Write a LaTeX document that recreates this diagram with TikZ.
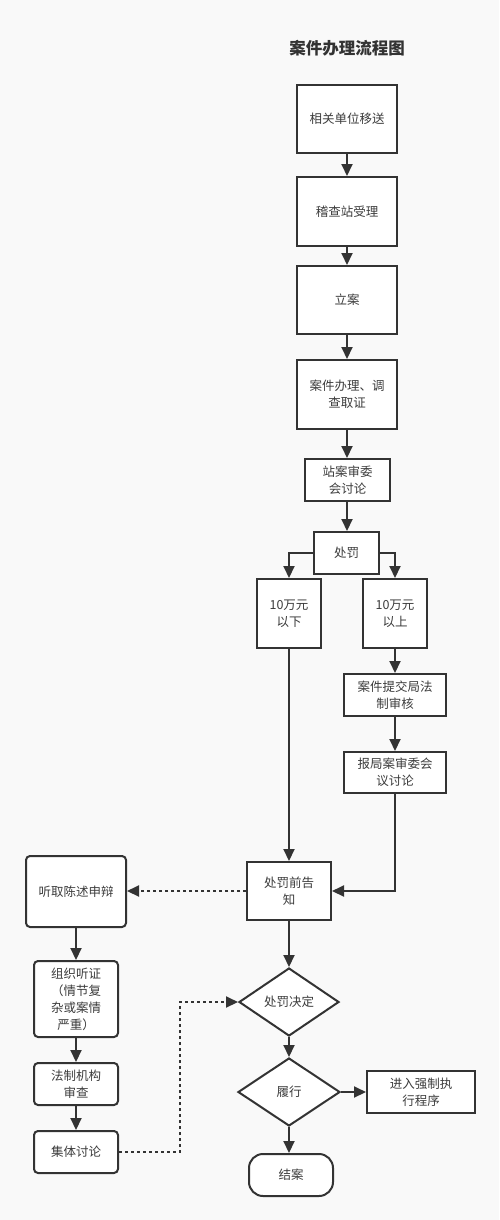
\documentclass[tikz,border=0pt]{standalone}
\usepackage{fontspec}
\newfontfamily\cjk{Noto Sans CJK SC}
\definecolor{linegray}{RGB}{51,51,51}
\definecolor{txtgray}{RGB}{60,60,60}
\definecolor{bggray}{RGB}{249,249,249}
\usetikzlibrary{shapes.geometric, arrows.meta, positioning}

\begin{document}
\begin{tikzpicture}[x=1pt, y=-1pt,
    box/.style={draw=linegray, line width=2pt, fill=white, inner sep=0pt,
        align=center, text=txtgray, font=\cjk\fontsize{12.5}{17}\selectfont},
    rbox/.style={box, rounded corners=4pt},
    decision/.style={box, diamond},
    term/.style={box, rounded corners=14pt},
    arr/.style={-{Triangle[length=12pt,width=11pt]}, line width=2pt, draw=linegray},
    dots/.style={arr, dash pattern=on 3pt off 3pt}]
                % Canvas
                \fill[bggray] (0,0) rectangle (499,1220);
                \useasboundingbox (0,0) rectangle (499,1220);

                % Title
                \node[font=\cjk\bfseries\fontsize{16.5}{20}\selectfont, text=linegray] (title) at (347,48) {案件办理流程图};

                % Main column
                \node[box, minimum width=100, minimum height=68] (move) at (347,119) {相关单位移送};
                \node[box, minimum width=100, minimum height=69] (accept) at (347,211.5) {稽查站受理};
                \node[box, minimum width=100, minimum height=68] (file) at (347,300) {立案};
                \node[box, minimum width=100, minimum height=69] (handle) at (347,394.5) {案件办理、调\\查取证};
                \node[box, minimum width=85, minimum height=42] (station) at (347.5,480) {站案审委\\会讨论};
                \node[box, minimum width=65, minimum height=42] (punish) at (346.5,553) {处罚};

                % Two branches
                \node[box, minimum width=64, minimum height=69] (below) at (289,613.5) {10万元\\以下};
                \node[box, minimum width=64, minimum height=69] (above) at (395,613.5) {10万元\\以上};
                \node[box, minimum width=102, minimum height=42] (legal) at (395,695) {案件提交局法\\制审核};
                \node[box, minimum width=102, minimum height=41] (bureau) at (395,772.5) {报局案审委会\\议讨论};

                % Notice and decision
                \node[box, minimum width=84, minimum height=58] (notice) at (289,891) {处罚前告\\知};
                \node[decision, minimum width=100, minimum height=68] (decide) at (289,1002) {处罚决定};
                \node[decision, minimum width=102, minimum height=68] (perform) at (289,1092) {履行};
                \node[box, minimum width=108, minimum height=42] (enforce) at (421,1092) {进入强制执\\行程序};
                \node[term, minimum width=84, minimum height=42] (close) at (291,1175) {结案};

                % Hearing column
                \node[rbox, minimum width=100, minimum height=71] (plead) at (76,891.5) {听取陈述申辩};
                \node[rbox, minimum width=84, minimum height=76] (hearing) at (76,999) {组织听证\\（情节复\\杂或案情\\严重）};
                \node[rbox, minimum width=84, minimum height=42] (review) at (76,1084) {法制机构\\审查};
                \node[rbox, minimum width=84, minimum height=42] (discuss) at (76,1152) {集体讨论};

                % Arrows
                \draw[arr] (move) -- (accept);
                \draw[arr] (accept) -- (file);
                \draw[arr] (file) -- (handle);
                \draw[arr] (handle) -- (handle.south |- station.north);
                \draw[arr] (handle.south |- station.south) -- (handle.south |- punish.north);
                \draw[arr] (punish.west) -| (below.north);
                \draw[arr] (punish.east) -| (above.north);
                \draw[arr] (below.south) -- (below.south |- notice.north);
                \draw[arr] (above) -- (legal);
                \draw[arr] (legal) -- (bureau);
                \draw[arr] (bureau.south) |- (notice.east);
                \draw[dots] (notice.west) -- (plead.east |- notice.west);
                \draw[arr] (plead.south -| hearing) -- (hearing);
                \draw[arr] (hearing) -- (review);
                \draw[arr] (review) -- (discuss);
                \draw[dots] (discuss.east) -- ++(61,0) |- (decide.west);
                \draw[arr] (notice.south) -- (notice.south |- decide.north);
                \draw[arr] (decide.south) -- (perform.north);
                \draw[arr] (perform.east) -- (enforce.west);
                \draw[arr] (perform.south) -- (perform.south |- close.north);
\end{tikzpicture}
\end{document}
